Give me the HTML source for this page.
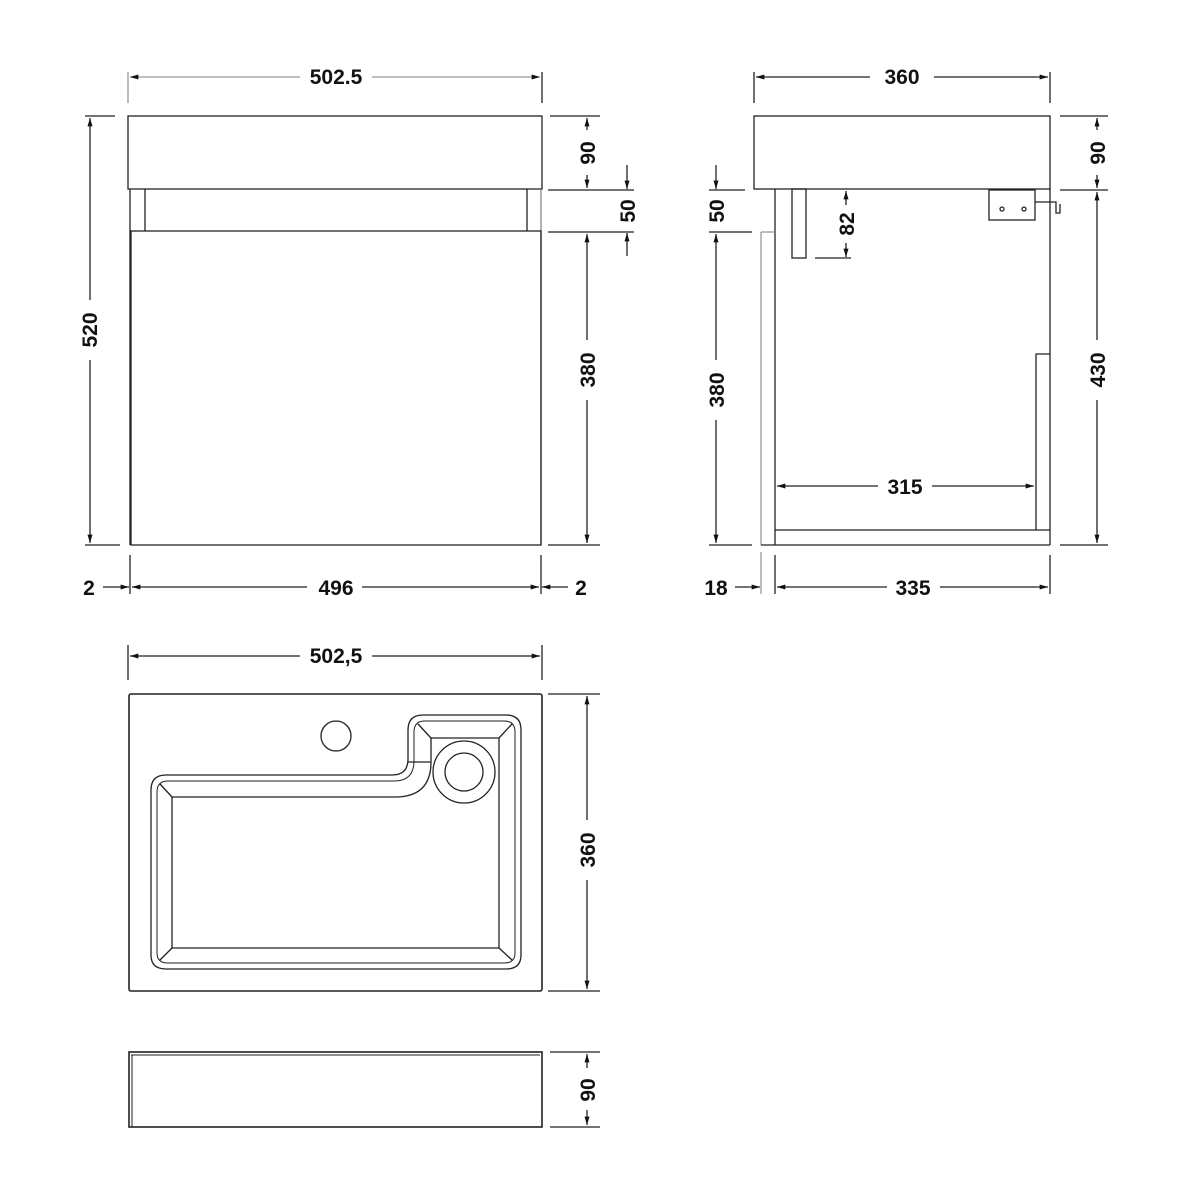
<!DOCTYPE html>
<html><head><meta charset="utf-8"><style>
html,body{margin:0;padding:0;background:#fff;}
svg{display:block;}
text{font-family:"Liberation Sans",sans-serif;font-weight:bold;font-size:21px;fill:#111;}
</style></head><body>
<svg width="1200" height="1200" viewBox="0 0 1200 1200" xmlns="http://www.w3.org/2000/svg">
<defs>
<marker id="a" viewBox="0 0 10 6" refX="10" refY="3" markerWidth="12" markerHeight="5" orient="auto-start-reverse" markerUnits="userSpaceOnUse"><path d="M0,0 L10,3 L0,6 Z" fill="#111"/></marker>
</defs>
<g stroke="#222" stroke-width="1.3" fill="none">
<!-- FRONT VIEW -->
<rect x="128" y="116" width="414" height="73"/>
<line x1="130" y1="189" x2="130" y2="545"/>
<line x1="145" y1="189" x2="145" y2="231"/>
<line x1="527" y1="189" x2="527" y2="231"/>
<line x1="541" y1="189" x2="541" y2="545" stroke="#888"/>
<rect x="131" y="231" width="410" height="314"/>
<!-- front dims -->
<line x1="128" y1="72" x2="128" y2="103" stroke="#999"/>
<line x1="542" y1="72" x2="542" y2="103"/>
<line x1="130" y1="77" x2="300" y2="77" stroke="#999" marker-start="url(#a)"/>
<line x1="372" y1="77" x2="540" y2="77" stroke="#999" marker-end="url(#a)"/>
<line x1="85" y1="116" x2="115" y2="116"/>
<line x1="85" y1="545" x2="120" y2="545"/>
<line x1="90" y1="118" x2="90" y2="300" marker-start="url(#a)"/>
<line x1="90" y1="360" x2="90" y2="543" marker-end="url(#a)"/>
<line x1="550" y1="116" x2="600" y2="116"/>
<line x1="548" y1="190" x2="634" y2="190"/>
<line x1="548" y1="232" x2="634" y2="232"/>
<line x1="548" y1="545" x2="600" y2="545"/>
<line x1="587" y1="118" x2="587" y2="130" marker-start="url(#a)"/>
<line x1="587" y1="175" x2="587" y2="188" marker-end="url(#a)"/>
<line x1="587" y1="234" x2="587" y2="340" marker-start="url(#a)"/>
<line x1="587" y1="400" x2="587" y2="543" marker-end="url(#a)"/>
<line x1="627" y1="165" x2="627" y2="189" marker-end="url(#a)"/>
<line x1="627" y1="256" x2="627" y2="233" marker-end="url(#a)"/>
<line x1="130" y1="555" x2="130" y2="594"/>
<line x1="541" y1="555" x2="541" y2="594"/>
<line x1="103" y1="587" x2="129" y2="587" marker-end="url(#a)"/>
<line x1="132" y1="587" x2="307" y2="587" marker-start="url(#a)"/>
<line x1="362" y1="587" x2="539" y2="587" marker-end="url(#a)"/>
<line x1="568" y1="587" x2="542" y2="587" marker-end="url(#a)"/>

<!-- SIDE VIEW -->
<rect x="754" y="116" width="296" height="73"/>
<line x1="761" y1="232" x2="761" y2="545" stroke="#999"/>
<line x1="775" y1="189" x2="775" y2="545"/>
<line x1="761" y1="232" x2="775" y2="232" stroke="#999"/>
<line x1="1050" y1="189" x2="1050" y2="545"/>
<line x1="775" y1="530" x2="1050" y2="530"/>
<line x1="761" y1="545" x2="1050" y2="545"/>
<polyline points="1036,530 1036,354 1050,354"/>
<rect x="792" y="189" width="14" height="69"/>
<rect x="989" y="190" width="46" height="30"/>
<circle cx="1002" cy="209" r="2"/>
<circle cx="1024" cy="209" r="2"/>
<polyline points="1035,202 1056,202 1056,213 1060,213 1060,204"/>
<!-- side dims -->
<line x1="754" y1="72" x2="754" y2="103"/>
<line x1="1050" y1="72" x2="1050" y2="103"/>
<line x1="756" y1="77" x2="870" y2="77" marker-start="url(#a)"/>
<line x1="934" y1="77" x2="1048" y2="77" marker-end="url(#a)"/>
<line x1="1060" y1="116" x2="1108" y2="116"/>
<line x1="1060" y1="190" x2="1108" y2="190"/>
<line x1="1060" y1="545" x2="1108" y2="545"/>
<line x1="1097" y1="118" x2="1097" y2="130" marker-start="url(#a)"/>
<line x1="1097" y1="175" x2="1097" y2="188" marker-end="url(#a)"/>
<line x1="1097" y1="192" x2="1097" y2="340" marker-start="url(#a)"/>
<line x1="1097" y1="400" x2="1097" y2="543" marker-end="url(#a)"/>
<line x1="709" y1="190" x2="745" y2="190"/>
<line x1="709" y1="232" x2="752" y2="232"/>
<line x1="709" y1="545" x2="752" y2="545"/>
<line x1="716" y1="165" x2="716" y2="189" marker-end="url(#a)"/>
<line x1="716" y1="234" x2="716" y2="360" marker-start="url(#a)"/>
<line x1="716" y1="420" x2="716" y2="543" marker-end="url(#a)"/>
<line x1="846" y1="191" x2="846" y2="205" marker-start="url(#a)"/>
<line x1="846" y1="243" x2="846" y2="257" marker-end="url(#a)"/>
<line x1="815" y1="258" x2="851" y2="258"/>
<line x1="777" y1="486" x2="878" y2="486" marker-start="url(#a)"/>
<line x1="932" y1="486" x2="1034" y2="486" marker-end="url(#a)"/>
<line x1="761" y1="552" x2="761" y2="594" stroke="#999"/>
<line x1="775" y1="555" x2="775" y2="594"/>
<line x1="1050" y1="555" x2="1050" y2="594"/>
<line x1="735" y1="587" x2="760" y2="587" marker-end="url(#a)"/>
<line x1="777" y1="587" x2="887" y2="587" marker-start="url(#a)"/>
<line x1="940" y1="587" x2="1048" y2="587" marker-end="url(#a)"/>

<!-- TOP VIEW -->
<line x1="128" y1="645" x2="128" y2="680"/>
<line x1="542" y1="645" x2="542" y2="680"/>
<line x1="130" y1="656" x2="300" y2="656" marker-start="url(#a)"/>
<line x1="372" y1="656" x2="540" y2="656" marker-end="url(#a)"/>
<rect x="129" y="694" width="413" height="297" rx="2" stroke-width="1.6"/>
<path d="M151,955 V790 Q151,775 166,775 H392 Q408,775 408,759 V730 Q408,715 423,715 H506 Q521,715 521,730 V955 Q521,969 506,969 H166 Q151,969 151,955 Z"/>
<path d="M157,953 V792 Q157,781 168,781 H394 Q414,781 414,761 V732 Q414,721 425,721 H504 Q515,721 515,732 V953 Q515,963 504,963 H168 Q157,963 157,953 Z" stroke-width="1"/>
<path d="M172,948 V797 H395 Q431,797 431,762 V738 H499 V948 Z"/>
<line x1="172" y1="797" x2="160" y2="784"/>
<line x1="172" y1="948" x2="160" y2="960"/>
<line x1="499" y1="948" x2="512" y2="960"/>
<line x1="499" y1="738" x2="512" y2="724"/>
<line x1="431" y1="738" x2="418" y2="724"/>
<line x1="408" y1="762" x2="431" y2="762"/>
<circle cx="336" cy="736" r="15"/>
<circle cx="464" cy="772" r="31"/>
<circle cx="464" cy="772" r="19"/>
<line x1="548" y1="694" x2="600" y2="694"/>
<line x1="548" y1="991" x2="600" y2="991"/>
<line x1="587" y1="696" x2="587" y2="820" marker-start="url(#a)"/>
<line x1="587" y1="880" x2="587" y2="989" marker-end="url(#a)"/>

<!-- SIDE OF BASIN -->
<rect x="129" y="1052" width="413" height="75" stroke-width="1.6"/>
<line x1="131" y1="1055" x2="540" y2="1055" stroke-width="1"/>
<line x1="132" y1="1055" x2="132" y2="1127" stroke-width="1"/>
<line x1="550" y1="1052" x2="600" y2="1052"/>
<line x1="550" y1="1127" x2="600" y2="1127"/>
<line x1="587" y1="1054" x2="587" y2="1068" marker-start="url(#a)"/>
<line x1="587" y1="1110" x2="587" y2="1125" marker-end="url(#a)"/>
</g>
<g>
<text x="336" y="84" text-anchor="middle">502.5</text>
<text x="902" y="84" text-anchor="middle">360</text>
<text x="336" y="595" text-anchor="middle">496</text>
<text x="89" y="595" text-anchor="middle">2</text>
<text x="581" y="595" text-anchor="middle">2</text>
<text x="716" y="595" text-anchor="middle">18</text>
<text x="913" y="595" text-anchor="middle">335</text>
<text x="905" y="494" text-anchor="middle">315</text>
<text x="336" y="663" text-anchor="middle">502,5</text>
<text transform="translate(97,330) rotate(-90)" text-anchor="middle">520</text>
<text transform="translate(595,153) rotate(-90)" text-anchor="middle">90</text>
<text transform="translate(595,370) rotate(-90)" text-anchor="middle">380</text>
<text transform="translate(635,211) rotate(-90)" text-anchor="middle">50</text>
<text transform="translate(1105,153) rotate(-90)" text-anchor="middle">90</text>
<text transform="translate(1105,370) rotate(-90)" text-anchor="middle">430</text>
<text transform="translate(724,211) rotate(-90)" text-anchor="middle">50</text>
<text transform="translate(724,390) rotate(-90)" text-anchor="middle">380</text>
<text transform="translate(854,224) rotate(-90)" text-anchor="middle">82</text>
<text transform="translate(595,850) rotate(-90)" text-anchor="middle">360</text>
<text transform="translate(595,1090) rotate(-90)" text-anchor="middle">90</text>
</g>
</svg>
</body></html>
